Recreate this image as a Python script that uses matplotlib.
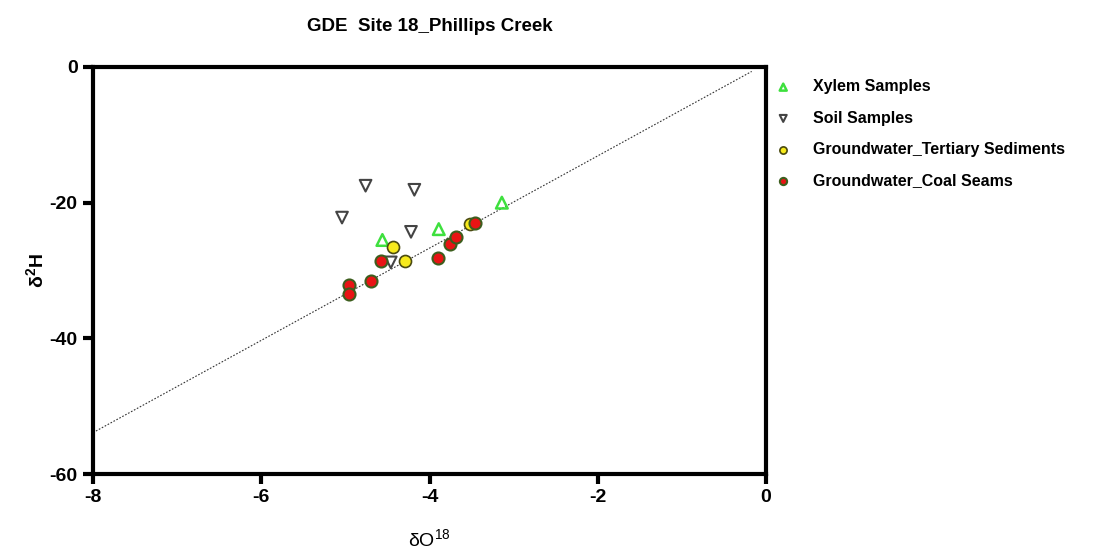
import matplotlib.pyplot as plt
import numpy as np

plt.rcParams['font.family'] = ['Liberation Sans', 'DejaVu Sans']
plt.rcParams['axes.unicode_minus'] = False
plt.rcParams['mathtext.default'] = 'regular'

# isotope data (d18O, d2H)
xylem_o = [-4.56, -3.89, -3.14]
xylem_h = [-25.5, -23.9, -20.0]

soil_o = [-4.76, -4.18, -5.04, -4.22, -4.46]
soil_h = [-17.5, -18.1, -22.2, -24.3, -28.8]

tert_o = [-4.43, -4.29, -3.52]
tert_h = [-26.6, -28.6, -23.2]

coal_o = [-4.58, -3.90, -4.70, -4.96, -4.96, -3.76, -3.69, -3.46]
coal_h = [-28.6, -28.1, -31.5, -32.1, -33.5, -26.1, -25.0, -23.0]

# local water line
line_slope = 6.8
line_icpt = 0.5
line_x = [-8, -0.17]

fig = plt.figure(figsize=(11.02, 5.55), dpi=100)
ax = fig.add_axes([0.0844, 0.1459, 0.6107, 0.7334])

lx = np.array(line_x)
ax.plot(lx, line_slope * lx + line_icpt, ls=(0, (1.5, 1.5)), lw=0.8, color='#333333', zorder=1)

ax.scatter(xylem_o, xylem_h, marker='^', s=70, facecolor='none', edgecolor='#3ee03e', linewidth=1.8, zorder=3,
           label='Xylem Samples')
ax.scatter(soil_o, soil_h, marker='v', s=70, facecolor='none', edgecolor='#444444', linewidth=1.5, zorder=3,
           label='Soil Samples')
ax.scatter(tert_o, tert_h, marker='o', s=75, facecolor='#f7ea1c', edgecolor='#4a4a10', linewidth=1.2, zorder=4,
           label='Groundwater_Tertiary Sediments')
ax.scatter(coal_o, coal_h, marker='o', s=75, facecolor='#e81414', edgecolor='#3d5e1e', linewidth=1.5, zorder=4,
           label='Groundwater_Coal Seams')

ax.set_xlim(-8, 0)
ax.set_ylim(-60, 0)
ax.set_xticks([-8, -6, -4, -2, 0])
ax.set_yticks([-60, -40, -20, 0])

for sp in ax.spines.values():
    sp.set_linewidth(3)
ax.tick_params(direction='out', length=7, width=3, labelsize=14, pad=4)
for lab in ax.get_xticklabels() + ax.get_yticklabels():
    lab.set_fontweight('bold')

ax.set_title('GDE  Site 18_Phillips Creek', fontsize=13.5, fontweight='bold', pad=26)
ax.set_xlabel('δO$^{18}$', fontsize=14, labelpad=16)
ax.set_ylabel('δ$^{2}$H', fontsize=14, fontweight='bold', labelpad=2)

leg = ax.legend(loc='upper left', bbox_to_anchor=(0.99, 1.005), frameon=False, markerscale=0.6,
                handlelength=1.2, handletextpad=1.25, labelspacing=1.02,
                prop={'family': ['Liberation Sans', 'DejaVu Sans'], 'weight': 'bold', 'size': 11.5})

fig.savefig('out.png', dpi=100)
